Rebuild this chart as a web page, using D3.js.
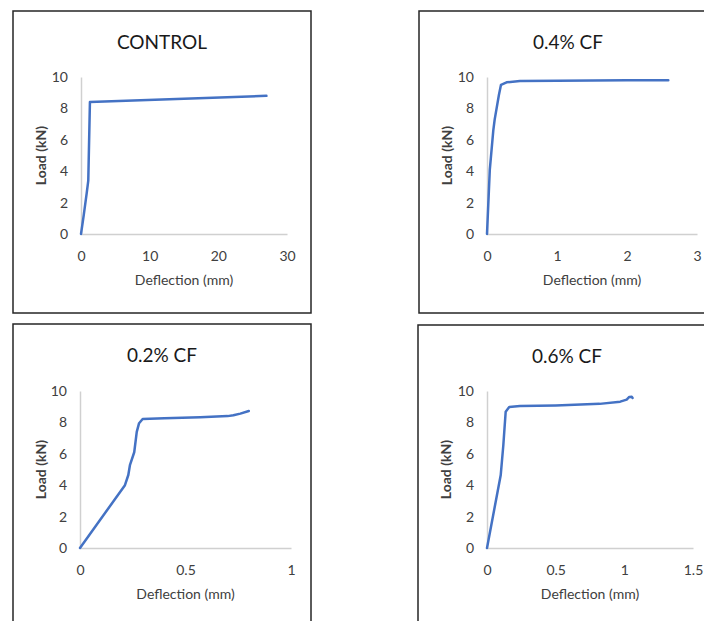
<!DOCTYPE html>
<html>
<head>
<meta charset="utf-8">
<script src="https://cdn.jsdelivr.net/npm/d3@7"></script>
<style>
  body { margin: 0; background: #fff; }
  svg { display: block; }
</style>
</head>
<body>
<script>
// chart data
const titles = ["CONTROL", "0.4% CF", "0.2% CF", "0.6% CF"];
const yTicks = [0, 2, 4, 6, 8, 10];
const xTicksControl = [0, 10, 20, 30];
const xTicks04 = [0, 1, 2, 3];
const xTicks02 = [0, 0.5, 1];
const xTicks06 = [0, 0.5, 1, 1.5];

const controlDefl = [0, 0.4, 0.83, 1.06, 1.3, 27];
const controlLoad = [0, 1.2, 2.6, 3.4, 8.4, 8.8];

const cf04Defl = [0, 0.04, 0.09, 0.11, 0.17, 0.2, 0.28, 0.47, 1.0, 2.0, 2.59];
const cf04Load = [0, 4.1, 6.6, 7.3, 8.85, 9.5, 9.66, 9.74, 9.76, 9.79, 9.8];

const cf02Defl = [0, 0.213, 0.229, 0.237, 0.257, 0.269, 0.28, 0.297, 0.4, 0.57, 0.7, 0.727, 0.76, 0.80];
const cf02Load = [0, 4.0, 4.65, 5.3, 6.1, 7.4, 7.95, 8.22, 8.27, 8.33, 8.4, 8.45, 8.56, 8.73];

const cf06Defl = [0, 0.1, 0.119, 0.136, 0.162, 0.24, 0.5, 0.82, 0.97, 1.017, 1.036, 1.054, 1.06];
const cf06Load = [0, 4.65, 6.56, 8.68, 8.98, 9.04, 9.08, 9.18, 9.32, 9.45, 9.62, 9.63, 9.56];

const panels = [
  { title: titles[0], defl: controlDefl, load: controlLoad, xMax: 30, xTicks: xTicksControl,
    box: [13, 11], plotX: [81, 287], plotY: [234, 77] },
  { title: titles[1], defl: cf04Defl, load: cf04Load, xMax: 3, xTicks: xTicks04,
    box: [419, 11], plotX: [487, 697], plotY: [234, 77] },
  { title: titles[2], defl: cf02Defl, load: cf02Load, xMax: 1, xTicks: xTicks02,
    box: [13, 324], plotX: [80, 291], plotY: [548, 391] },
  { title: titles[3], defl: cf06Defl, load: cf06Load, xMax: 1.5, xTicks: xTicks06,
    box: [418, 325], plotX: [487, 693], plotY: [548, 391] }
];

const width = 704, height = 621;
const boxW = 298, boxH = 302;
const font = "Lato, 'Open Sans', sans-serif";

const svg = d3.select("body").append("svg")
  .attr("width", width)
  .attr("height", height);

svg.append("rect")
  .attr("width", width)
  .attr("height", height)
  .attr("fill", "white");

panels.forEach(p => {
  const g = svg.append("g");

  g.append("rect")
    .attr("x", p.box[0])
    .attr("y", p.box[1])
    .attr("width", boxW)
    .attr("height", boxH)
    .attr("fill", "white")
    .attr("stroke", "#262626")
    .attr("stroke-width", 1.5);

  const x = d3.scaleLinear().domain([0, p.xMax]).range(p.plotX);
  const y = d3.scaleLinear().domain([0, 10]).range(p.plotY);

  // x axis
  g.append("g")
    .attr("transform", `translate(0,${p.plotY[0]})`)
    .call(d3.axisBottom(x).tickValues(p.xTicks).tickSize(0).tickPadding(17)
      .tickFormat(d => String(d)))
    .call(a => a.select(".domain").attr("stroke", "#d0d0d0").attr("stroke-width", 1.5))
    .selectAll("text")
    .style("font", `14px ${font}`)
    .attr("fill", "#404040");

  // y axis
  g.append("g")
    .attr("transform", `translate(${p.plotX[0]},0)`)
    .call(d3.axisLeft(y).tickValues(yTicks).tickSize(0).tickPadding(13))
    .call(a => a.select(".domain").attr("stroke", "#d0d0d0").attr("stroke-width", 1.5))
    .selectAll("text")
    .style("font", `14px ${font}`)
    .attr("fill", "#404040");

  const cx = p.box[0] + boxW / 2;
  g.append("text")
    .attr("x", cx)
    .attr("y", p.box[1] + 38)
    .attr("text-anchor", "middle")
    .style("font", `19px ${font}`)
    .attr("fill", "#1a1a1a")
    .text(p.title);

  g.append("text")
    .attr("x", (p.plotX[0] + p.plotX[1]) / 2)
    .attr("y", p.plotY[0] + 51)
    .attr("text-anchor", "middle")
    .style("font", `14px ${font}`)
    .attr("fill", "#404040")
    .text("Deflection (mm)");

  g.append("text")
    .attr("transform", `translate(${p.box[0] + 33},${(p.plotY[0] + p.plotY[1]) / 2}) rotate(-90)`)
    .attr("text-anchor", "middle")
    .style("font", `bold 14px ${font}`)
    .attr("fill", "#404040")
    .text("Load (kN)");

  const pts = p.defl.map((d, i) => [d, p.load[i]]);
  const line = d3.line()
    .x(d => x(d[0]))
    .y(d => y(d[1]))
    .curve(d3.curveLinear);

  g.append("path")
    .datum(pts)
    .attr("d", line)
    .attr("fill", "none")
    .attr("stroke", "#4472C4")
    .attr("stroke-width", 2.5)
    .attr("stroke-linejoin", "round")
    .attr("stroke-linecap", "round");
});
</script>
</body>
</html>
